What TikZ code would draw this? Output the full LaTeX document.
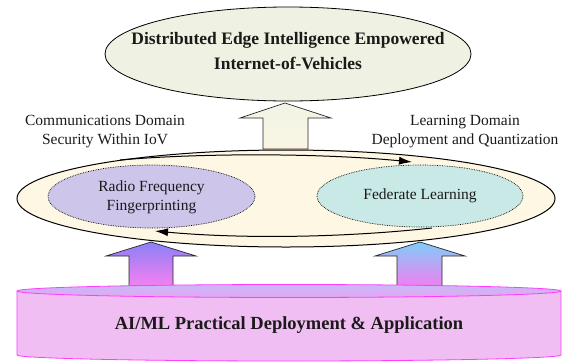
\documentclass[tikz,border=0pt]{standalone}
\usepackage{fontspec}
\setmainfont{Liberation Serif}
\usetikzlibrary{shapes.geometric,arrows.meta}
\definecolor{topfill}{HTML}{EFF2E2}
\definecolor{ringfill}{HTML}{FDF7E4}
\definecolor{rffill}{HTML}{CDC5EA}
\definecolor{flfill}{HTML}{C9E9E6}
\definecolor{cylside}{HTML}{F0BEF2}
\definecolor{cyledge}{HTML}{FF3CFF}
\definecolor{txt}{HTML}{1A1A1A}
\begin{document}
\begin{tikzpicture}[x=1pt,y=-1pt,
  ell/.style={draw, ellipse, inner sep=0pt},
  dotell/.style={draw, ellipse, inner sep=0pt, densely dotted, line width=0.7pt},
  lbl/.style={font=\fontsize{15.5}{19}\selectfont, align=center, text=txt},
  ttl/.style={font=\bfseries\fontsize{17.5}{25}\selectfont, align=center, text=txt},
  blk/.style={draw=black!85, line width=0.7pt, line join=miter},
  flow/.style={line width=1pt, -{Latex[length=13pt,width=8pt]}}
]
\useasboundingbox (0,0) rectangle (575,362);

% lower block arrows
\shade[blk, top color={rgb,255:red,138;green,128;blue,248}, bottom color={rgb,255:red,246;green,128;blue,240}]
  (151,242) -- (196,256) -- (173,256) -- (173,286) -- (129,286) -- (129,256) -- (106,256) -- cycle;
\shade[blk, top color={rgb,255:red,128;green,204;blue,248}, bottom color={rgb,255:red,240;green,128;blue,240}]
  (420,242) -- (465,256) -- (442,256) -- (442,286) -- (397,286) -- (397,256) -- (375,256) -- cycle;

% cylinder
\fill[cylside] (17,291) -- (17,355) arc[start angle=180,end angle=360,x radius=272pt,y radius=6pt] -- (561,291) -- cycle;
\draw[cyledge, line width=0.8pt] (17,291) -- (17,355) arc[start angle=180,end angle=360,x radius=272pt,y radius=6pt] -- (561,291);
\shade[top color={rgb,255:red,200;green,184;blue,248}, bottom color={rgb,255:red,228;green,166;blue,242}, draw=cyledge, line width=0.8pt]
  (289,291) ellipse [x radius=272pt, y radius=6.5pt];
\node[font=\bfseries\fontsize{18.5}{22}\selectfont, text=txt] (app) at (289,325) {AI/ML Practical Deployment \& Application};

% top block arrow
\shade[blk, top color={rgb,255:red,242;green,244;blue,230}, bottom color={rgb,255:red,250;green,245;blue,226}]
  (285,103) -- (331,118) -- (308,118) -- (308,149) -- (263,149) -- (263,118) -- (240,118) -- cycle;

% main ring
\node[ell, fill=ringfill, minimum width=538pt, minimum height=97pt, line width=1pt] (ring) at (286,198.5) {};
\draw[flow] (120,160) .. controls (200,153) and (320,153) .. (412,162);
\draw[flow] (432,228) .. controls (330,239) and (230,238) .. (155,231);

\node[dotell, fill=rffill, minimum width=207pt, minimum height=63pt] (rf) at (151.5,196.5) {};
\node[lbl] (rft) at (151.5,197) {Radio Frequency\\Fingerprinting};
\node[dotell, fill=flfill, minimum width=206pt, minimum height=62pt] (fl) at (420,196) {};
\node[lbl] (flt) at (420,196) {Federate Learning};

% top ellipse
\node[ell, fill=topfill, minimum width=366pt, minimum height=94pt, line width=0.8pt] (top) at (288,54) {};
\node[ttl] (topt) at (288,51) {Distributed Edge Intelligence Empowered\\Internet-of-Vehicles};

% side labels
\node[lbl] (comm) at (105,132) {Communications Domain\\Security Within IoV};
\node[lbl] (learn) at (465,132) {Learning Domain\\Deployment and Quantization};
\end{tikzpicture}
\end{document}
